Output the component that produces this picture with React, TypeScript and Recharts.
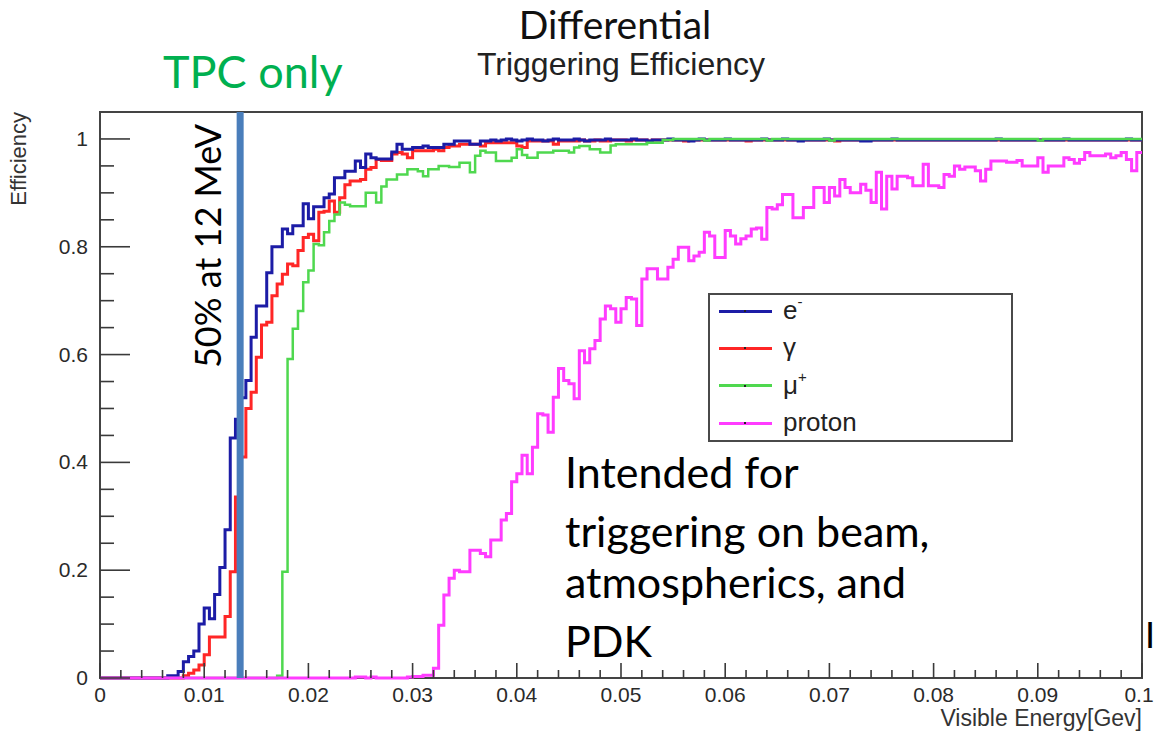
import { Legend, Line, LineChart, ReferenceArea, ReferenceLine, XAxis, YAxis } from "recharts";

// histogram bins of 0.5 MeV from 0 to 0.1 GeV (200 bins), efficiency per bin
const BIN_WIDTH = 0.0005;

const electron = [
  0, 0, 0, 0, 0, 0, 0, 0, 0, 0,
  0, 0, 0, 0.004, 0.004, 0.012, 0.03, 0.04, 0.05, 0.1,
  0.13, 0.11, 0.155, 0.205, 0.275, 0.445, 0.48, 0.52, 0.552, 0.632,
  0.69, 0.69, 0.752, 0.8, 0.8, 0.833, 0.824, 0.839, 0.839, 0.88,
  0.852, 0.874, 0.874, 0.891, 0.898, 0.928, 0.928, 0.94, 0.94, 0.959,
  0.947, 0.972, 0.965, 0.963, 0.963, 0.963, 0.976, 0.99, 0.981, 0.981,
  0.984, 0.984, 0.987, 0.984, 0.984, 0.984, 0.99, 0.99, 0.996, 0.996,
  0.996, 0.99, 0.99, 0.996, 0.996, 0.998, 0.996, 0.998, 1, 0.998,
  0.996, 0.998, 1, 0.998, 0.998, 0.996, 0.998, 1, 0.998, 0.998,
  0.998, 1, 0.998, 0.996, 0.998, 0.998, 0.998, 1, 0.998, 0.998,
  0.998, 0.998, 1, 0.998, 0.998, 0.996, 0.998, 0.998, 0.998, 1,
  0.998, 0.998, 0.998, 0.996, 0.998, 1, 0.998, 0.998, 0.998, 0.998,
  1, 0.998, 0.998, 0.998, 0.998, 0.998, 0.998, 1, 0.998, 0.998,
  0.998, 1, 0.998, 0.998, 0.996, 0.998, 0.998, 0.998, 0.998, 1,
  0.998, 0.998, 0.998, 0.998, 0.998, 0.998, 0.996, 0.996, 0.998, 0.998,
  0.998, 0.998, 1, 0.998, 0.998, 0.998, 0.998, 0.998, 0.998, 0.998,
  0.998, 0.998, 0.998, 0.998, 0.998, 0.998, 0.998, 0.998, 0.998, 0.998,
  0.998, 0.998, 1, 0.998, 0.998, 0.998, 0.998, 0.998, 0.998, 0.998,
  0.998, 0.998, 0.998, 0.998, 0.998, 1, 0.998, 0.998, 0.998, 0.998,
  0.998, 0.998, 0.998, 0.998, 0.998, 0.998, 0.998, 1, 0.998, 0.998,
];

const gamma = [
  0, 0, 0, 0, 0, 0, 0, 0, 0, 0,
  0, 0, 0, 0, 0, 0, 0.004, 0.009, 0.015, 0.024,
  0.043, 0.076, 0.076, 0.076, 0.114, 0.197, 0.336, 0.41, 0.5, 0.53,
  0.595, 0.655, 0.66, 0.709, 0.731, 0.749, 0.768, 0.765, 0.793, 0.817,
  0.823, 0.811, 0.864, 0.866, 0.885, 0.864, 0.891, 0.915, 0.922, 0.922,
  0.925, 0.944, 0.947, 0.962, 0.96, 0.96, 0.972, 0.975, 0.972, 0.965,
  0.978, 0.978, 0.978, 0.978, 0.981, 0.978, 0.984, 0.987, 0.987, 0.99,
  0.99, 0.99, 0.99, 0.987, 0.993, 0.993, 0.993, 0.993, 0.993, 0.993,
  0.987, 0.984, 0.996, 0.996, 0.996, 0.996, 0.996, 0.99, 0.996, 0.996,
  0.996, 0.996, 0.998, 0.996, 0.996, 0.998, 0.996, 0.996, 0.998, 0.998,
  0.998, 0.996, 0.998, 0.998, 0.998, 0.996, 0.998, 0.998, 0.998, 0.998,
  0.998, 0.998, 0.996, 0.998, 0.998, 0.998, 0.998, 0.998, 0.998, 0.998,
  0.998, 0.998, 0.998, 0.998, 0.996, 0.998, 0.998, 0.998, 0.998, 0.998,
  0.998, 0.998, 0.998, 0.998, 0.998, 0.998, 0.998, 0.998, 0.998, 0.998,
  0.998, 0.996, 0.998, 0.998, 0.998, 0.998, 0.998, 0.998, 0.998, 0.998,
  0.998, 0.998, 0.998, 0.998, 0.998, 0.998, 0.998, 0.998, 0.998, 0.998,
  0.998, 0.998, 0.998, 0.998, 0.998, 0.998, 0.998, 0.998, 0.998, 0.998,
  0.998, 0.998, 0.998, 0.998, 0.998, 0.998, 0.998, 0.998, 0.998, 0.998,
  0.998, 0.998, 0.998, 0.998, 0.998, 0.998, 0.998, 0.998, 0.998, 0.998,
  0.998, 0.998, 0.998, 0.998, 0.998, 0.998, 0.998, 0.998, 0.998, 0.998,
];

const muon = [
  0, 0, 0, 0, 0, 0, 0, 0, 0, 0,
  0, 0, 0, 0, 0, 0, 0, 0, 0, 0,
  0, 0, 0, 0, 0, 0, 0, 0, 0, 0,
  0, 0, 0, 0, 0.004, 0.197, 0.592, 0.648, 0.681, 0.734,
  0.756, 0.805, 0.803, 0.827, 0.848, 0.86, 0.882, 0.878, 0.875, 0.875,
  0.875, 0.9, 0.9, 0.882, 0.912, 0.925, 0.925, 0.934, 0.934, 0.944,
  0.944, 0.94, 0.931, 0.944, 0.944, 0.95, 0.95, 0.948, 0.948, 0.956,
  0.956, 0.938, 0.969, 0.978, 0.975, 0.975, 0.959, 0.959, 0.959, 0.965,
  0.981, 0.97, 0.965, 0.965, 0.975, 0.975, 0.975, 0.978, 0.978, 0.978,
  0.975, 0.984, 0.987, 0.987, 0.981, 0.981, 0.975, 0.975, 0.988, 0.99,
  0.99, 0.99, 0.99, 0.99, 0.99, 0.993, 0.993, 0.993, 0.998, 0.998,
  1, 1, 1, 1, 1, 1, 0.997, 1, 1, 1,
  1, 1, 1, 1, 1, 1, 1, 1, 0.997, 1,
  1, 1, 1, 1, 1, 1, 1, 1, 1, 1,
  0.997, 1, 1, 1, 1, 1, 1, 1, 1, 1,
  1, 1, 1, 1, 1, 1, 1, 1, 1, 1,
  1, 1, 1, 1, 1, 1, 1, 1, 1, 1,
  1, 1, 1, 1, 1, 1, 1, 1, 1, 1,
  0.997, 1, 1, 1, 1, 1, 1, 1, 1, 1,
  1, 1, 1, 1, 1, 1, 1, 1, 1, 1,
];

const proton = [
  0, 0, 0, 0, 0, 0, 0, 0, 0, 0,
  0, 0, 0, 0, 0, 0, 0, 0, 0, 0,
  0, 0, 0, 0, 0, 0, 0, 0, 0, 0,
  0, 0, 0, 0, 0, 0, 0, 0, 0, 0,
  0, 0, 0, 0, 0, 0, 0, 0, 0, 0.002,
  0.002, 0, 0.002, 0, 0, 0, 0, 0, 0, 0.002,
  0.003, 0.003, 0.005, 0.005, 0.018, 0.098, 0.154, 0.185, 0.2, 0.197,
  0.197, 0.237, 0.237, 0.231, 0.225, 0.256, 0.256, 0.293, 0.305, 0.364,
  0.379, 0.413, 0.379, 0.428, 0.49, 0.488, 0.456, 0.521, 0.574, 0.552,
  0.546, 0.518, 0.607, 0.585, 0.611, 0.626, 0.666, 0.69, 0.685, 0.66,
  0.685, 0.706, 0.703, 0.654, 0.74, 0.759, 0.759, 0.74, 0.74, 0.762,
  0.777, 0.799, 0.799, 0.774, 0.783, 0.79, 0.827, 0.82, 0.78, 0.78,
  0.83, 0.82, 0.805, 0.815, 0.82, 0.833, 0.835, 0.814, 0.873, 0.87,
  0.878, 0.897, 0.897, 0.854, 0.854, 0.873, 0.873, 0.91, 0.91, 0.882,
  0.91, 0.894, 0.925, 0.91, 0.9, 0.9, 0.916, 0.905, 0.882, 0.938,
  0.87, 0.931, 0.907, 0.931, 0.931, 0.928, 0.913, 0.913, 0.953, 0.913,
  0.913, 0.91, 0.934, 0.931, 0.95, 0.944, 0.948, 0.948, 0.941, 0.922,
  0.944, 0.959, 0.959, 0.959, 0.957, 0.957, 0.96, 0.95, 0.95, 0.95,
  0.965, 0.938, 0.95, 0.95, 0.95, 0.965, 0.962, 0.955, 0.962, 0.975,
  0.969, 0.969, 0.969, 0.972, 0.965, 0.969, 0.975, 0.962, 0.941, 0.975,
];

const xTicks = [
  0, 0.002, 0.004, 0.006, 0.008, 0.01, 0.012, 0.014, 0.016, 0.018,
  0.02, 0.022, 0.024, 0.026, 0.028, 0.03, 0.032, 0.034, 0.036, 0.038,
  0.04, 0.042, 0.044, 0.046, 0.048, 0.05, 0.052, 0.054, 0.056, 0.058,
  0.06, 0.062, 0.064, 0.066, 0.068, 0.07, 0.072, 0.074, 0.076, 0.078,
  0.08, 0.082, 0.084, 0.086, 0.088, 0.09, 0.092, 0.094, 0.096, 0.098, 0.1,
];
const xLabels = ["0", "0.01", "0.02", "0.03", "0.04", "0.05", "0.06", "0.07", "0.08", "0.09", "0.1"];

const yTicks = [0, 0.05, 0.1, 0.15, 0.2, 0.25, 0.3, 0.35, 0.4, 0.45, 0.5, 0.55, 0.6, 0.65, 0.7, 0.75, 0.8, 0.85, 0.9, 0.95, 1];
const yLabels = ["0", "0.2", "0.4", "0.6", "0.8", "1"];

const THRESHOLD_GEV = 0.01345;

const series = [
  { key: "electron", name: "e", sup: "-", color: "#1c1ca6", width: 3 },
  { key: "gamma", name: "γ", sup: "", color: "#ff2626", width: 3 },
  { key: "muon", name: "μ", sup: "+", color: "#4fd84f", width: 2.5 },
  { key: "proton", name: "proton", sup: "", color: "#ff3cff", width: 3 },
];
// draw order: red under blue, green over both, proton on top
const drawOrder = ["gamma", "electron", "muon", "proton"];

const rows = electron.map((_, i) => ({
  energy: i * BIN_WIDTH,
  electron: electron[i],
  gamma: gamma[i],
  muon: muon[i],
  proton: proton[i],
}));
rows.push({ ...rows[rows.length - 1], energy: 0.1 });

const helv = "'Liberation Sans', Arial, Helvetica, sans-serif";
const calibri = "Lato, 'Open Sans', sans-serif";
const axisColor = "#3a3a3a";

function XTick(props: any) {
  const { x, y, payload } = props;
  const k = Math.round(payload.value * 1000);
  const major = k % 10 === 0;
  // last label sits on the page edge, nudge it inside
  const lx = k === 100 ? x - 3 : x;
  return (
    <g>
      <line x1={x} y1={y} x2={x} y2={y - (major ? 15 : 8)} stroke={axisColor} strokeWidth={1.6} />
      {major && (
        <text x={lx} y={y + 24} textAnchor="middle" fontFamily={helv} fontSize={21} fill="#2a2a2a">
          {xLabels[k / 10]}
        </text>
      )}
    </g>
  );
}

function YTick(props: any) {
  const { x, y, payload } = props;
  const k = Math.round(payload.value * 100);
  const major = k % 20 === 0;
  return (
    <g>
      <line x1={x} y1={y} x2={x + (major ? 30 : 14)} y2={y} stroke={axisColor} strokeWidth={1.6} />
      {major && (
        <text x={x - 12} y={y + 7} textAnchor="end" fontFamily={helv} fontSize={21} fill="#2a2a2a">
          {yLabels[k / 20]}
        </text>
      )}
    </g>
  );
}

function LegendBox() {
  return (
    <div
      style={{
        position: "relative",
        width: 305,
        height: 149,
        border: "2px solid #4a4a4a",
        background: "#fff",
        boxSizing: "border-box",
        fontFamily: helv,
        color: "#222",
      }}
    >
      {series.map((s, i) => {
        const cy = 16 + i * 37.4;
        return (
          <div key={s.key}>
            <div style={{ position: "absolute", left: 9, top: cy - 1.5, width: 53, height: 3, background: s.color }} />
            <div style={{ position: "absolute", left: 34, top: cy - 1, width: 2, height: 2, background: "#222" }} />
            <div style={{ position: "absolute", left: 73, top: cy - 16, fontSize: 26, lineHeight: "30px", whiteSpace: "nowrap" }}>
              {s.name}
              {s.sup && <sup style={{ fontSize: 15, verticalAlign: "12px", lineHeight: 0 }}>{s.sup}</sup>}
            </div>
          </div>
        );
      })}
    </div>
  );
}

export default function App() {
  return (
    <div style={{ position: "absolute", left: 0, top: 0, width: 1155, height: 732, background: "#fff", overflow: "hidden" }}>
      <LineChart width={1155} height={732} data={rows} margin={{ top: 112, right: 13, bottom: 0, left: 40 }}>
        <XAxis
          dataKey="energy"
          type="number"
          domain={[0, 0.1]}
          ticks={xTicks}
          interval={0}
          tick={(p: any) => <XTick {...p} />}
          tickLine={false}
          axisLine={false}
          tickSize={0}
          tickMargin={0}
          height={54}
        />
        <YAxis
          type="number"
          domain={[0, 1.05]}
          ticks={yTicks}
          interval={0}
          tick={(p: any) => <YTick {...p} />}
          tickLine={false}
          axisLine={false}
          tickSize={0}
          tickMargin={0}
          width={60}
        />
        <ReferenceArea x1={0} x2={0.1} y1={0} y2={1.05} fill="none" stroke="#444" strokeWidth={2} />
        {drawOrder.map((key) => {
          const s = series.find((d) => d.key === key)!;
          return (
            <Line
              key={key}
              dataKey={key}
              type="stepAfter"
              stroke={s.color}
              strokeWidth={s.width}
              dot={false}
              activeDot={false}
              isAnimationActive={false}
            />
          );
        })}
        <ReferenceLine x={THRESHOLD_GEV} stroke="#4a7ebb" strokeWidth={7} />
        <Legend
          layout="vertical"
          align="center"
          verticalAlign="middle"
          wrapperStyle={{ left: 708, top: 293, width: 305, height: 149 }}
          content={() => <LegendBox />}
        />
      </LineChart>

      <svg width={1155} height={732} style={{ position: "absolute", left: 0, top: 0, pointerEvents: "none" }}>
        <text x={615} y={39} textAnchor="middle" fontFamily={calibri} fontSize={39} fill="#111">
          Differential
        </text>
        <text x={621} y={75} textAnchor="middle" fontFamily={helv} fontSize={32} fill="#222">
          Triggering Efficiency
        </text>
        <text x={163} y={88} fontFamily={calibri} fontSize={45} fill="#00b050">
          TPC only
        </text>
        <text x={221} y={246} textAnchor="middle" transform="rotate(-90 221 246)" fontFamily={calibri} fontSize={36} fill="#000">
          50% at 12 MeV
        </text>
        <text x={26} y={112} textAnchor="end" transform="rotate(-90 26 112)" fontFamily={helv} fontSize={22} fill="#333">
          Efficiency
        </text>
        <text x={1142} y={726} textAnchor="end" fontFamily={helv} fontSize={23} fill="#333">
          Visible Energy[Gev]
        </text>
        <g fontFamily={calibri} fontSize={43} fill="#000">
          <text x={565} y={488}>Intended for</text>
          <text x={565} y={547}>triggering on beam,</text>
          <text x={565} y={598}>atmospherics, and</text>
          <text x={565} y={657}>PDK</text>
          <text x={1145} y={648} fontSize={36}>I</text>
        </g>
      </svg>
    </div>
  );
}
